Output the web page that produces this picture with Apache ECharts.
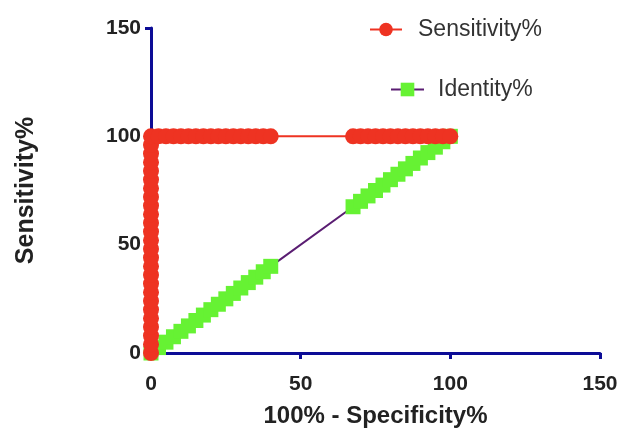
<!DOCTYPE html>
<html>
<head>
<meta charset="utf-8">
<script src="https://cdn.jsdelivr.net/npm/echarts@6/dist/echarts.min.js"></script>
<style>html,body{margin:0;padding:0;background:#fff}#c{width:629px;height:435px}</style>
</head>
<body>
<div id="c"></div>
<script>
// ROC curve points: x = 100% - Specificity%, y = Sensitivity%
var sensX = [0,0,0,0,0,0,0,0,0,0,0,0,0,0,0,0,0,0,0,0,0,0,0,0,0,0,
  2.5,5,7.5,10,12.5,15,17.5,20,22.5,25,27.5,30,32.5,35,37.5,40,
  67.5,70,72.5,75,77.5,80,82.5,85,87.5,90,92.5,95,97.5,100];
var sensY = [0,4,8,12,16,20,24,28,32,36,40,44,48,52,56,60,64,68,72,76,80,84,88,92,96,100,
  100,100,100,100,100,100,100,100,100,100,100,100,100,100,100,100,
  100,100,100,100,100,100,100,100,100,100,100,100,100,100];
// Identity line points
var identX = [0,2.5,5,7.5,10,12.5,15,17.5,20,22.5,25,27.5,30,32.5,35,37.5,40,
  67.5,70,72.5,75,77.5,80,82.5,85,87.5,90,92.5,95,97.5,100];
var identY = [0,2.5,5,7.5,10,12.5,15,17.5,20,22.5,25,27.5,30,32.5,35,37.5,40,
  67.5,70,72.5,75,77.5,80,82.5,85,87.5,90,92.5,95,97.5,100];
var axisTicks = [0, 50, 100, 150];

function pairs(xs, ys){ return xs.map(function(x,i){ return [x, ys[i]]; }); }

var FONT = '"Liberation Sans", Arial, sans-serif';
var AXIS_COLOR = '#0c0c96';
var RED = '#ee3322', GREEN = '#66f233', PURPLE = '#5a1d72';

var chart = echarts.init(document.getElementById('c'), null, {renderer:'canvas'});
chart.setOption({
  animation: false,
  backgroundColor: '#fff',
  grid: {left: 151, right: 29, top: 28, bottom: 82, containLabel: false},
  legend: [
    {data: ['Sensitivity%'], left: 364, top: 13, itemWidth: 32, itemHeight: 17,
     textStyle: {fontFamily: FONT, fontSize: 23, color: '#333', padding: [0,0,0,11]}},
    {data: ['Identity%'], left: 385, top: 73, itemWidth: 33, itemHeight: 17,
     textStyle: {fontFamily: FONT, fontSize: 23, color: '#333', padding: [0,0,0,9]}}
  ],
  xAxis: {
    type: 'value', min: axisTicks[0], max: axisTicks[3], interval: 50,
    name: '100% - Specificity%', nameLocation: 'middle', nameGap: 51,
    nameTextStyle: {fontFamily: FONT, fontSize: 24, fontWeight: 'bold', color: '#222'},
    axisLine: {show: true, lineStyle: {color: AXIS_COLOR, width: 3}},
    axisTick: {show: true, length: 6, lineStyle: {color: AXIS_COLOR, width: 3}},
    axisLabel: {fontFamily: FONT, fontSize: 21, fontWeight: 'bold', color: '#222', margin: 21},
    splitLine: {show: false}
  },
  yAxis: {
    type: 'value', min: axisTicks[0], max: axisTicks[3], interval: 50,
    name: 'Sensitivity%', nameLocation: 'middle', nameGap: 112, nameRotate: 90,
    nameTextStyle: {fontFamily: FONT, fontSize: 25, fontWeight: 'bold', color: '#222'},
    axisLine: {show: true, lineStyle: {color: AXIS_COLOR, width: 3}},
    axisTick: {show: true, length: 6, lineStyle: {color: AXIS_COLOR, width: 3}},
    axisLabel: {fontFamily: FONT, fontSize: 21, fontWeight: 'bold', color: '#222', margin: 10},
    splitLine: {show: false}
  },
  series: [
    {name: 'Sensitivity%', type: 'line', data: pairs(sensX, sensY), z: 4,
     symbol: 'circle', symbolSize: 16, showSymbol: true,
     itemStyle: {color: RED, borderWidth: 0},
     lineStyle: {color: RED, width: 2}},
    {name: 'Identity%', type: 'line', data: pairs(identX, identY), z: 3,
     symbol: 'rect', symbolSize: 15, showSymbol: true,
     itemStyle: {color: GREEN, borderWidth: 0},
     lineStyle: {color: PURPLE, width: 2}}
  ]
});
</script>
</body>
</html>
